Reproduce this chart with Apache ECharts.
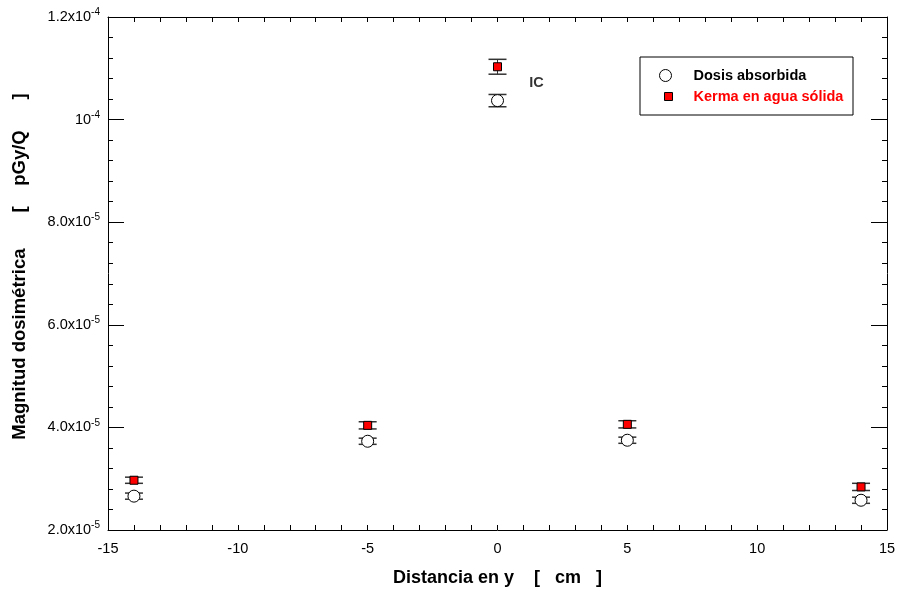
<!DOCTYPE html>
<html>
<head>
<meta charset="utf-8">
<script src="https://cdn.jsdelivr.net/npm/echarts@6/dist/echarts.min.js"></script>
<style>
    html, body { margin: 0; padding: 0; background: #fff; }
    #main { width: 899px; height: 592px; }
</style>
</head>
<body>
<div id="main"></div>
<script>
const xPos = [-14, -5, 0, 5, 14];
const dosis = [2.66e-5, 3.73e-5, 1.037e-4, 3.75e-5, 2.58e-5];
const dosisErr = [6e-7, 6e-7, 1.2e-6, 6e-7, 6e-7];
const kerma = [2.97e-5, 4.04e-5, 1.103e-4, 4.06e-5, 2.84e-5];
const kermaErr = [6e-7, 7e-7, 1.45e-6, 7e-7, 7e-7];
const yTickLabels = {
    2: '2.0x10{sup|-5}',
    4: '4.0x10{sup|-5}',
    6: '6.0x10{sup|-5}',
    8: '8.0x10{sup|-5}',
    10: '10{sup|-4}',
    12: '1.2x10{sup|-4}'
};
const icLabel = { x: 1.5, y: 1.072e-4, text: 'IC' };

const font = '"Liberation Sans", Arial, sans-serif';
const chart = echarts.init(document.getElementById('main'));

const errBars = (vals, errs) => xPos.map((x, i) => [x, vals[i], errs[i]]);

const renderErr = (params, api) => {
    const x = api.value(0), y = api.value(1), e = api.value(2);
    const top = api.coord([x, y + e]);
    const bot = api.coord([x, y - e]);
    const w = 9;
    const style = { stroke: '#333', lineWidth: 1.5 };
    return {
        type: 'group',
        children: [
            { type: 'line', shape: { x1: top[0], y1: top[1], x2: bot[0], y2: bot[1] }, style: { stroke: '#333', lineWidth: 1 } },
            { type: 'line', shape: { x1: top[0] - w, y1: top[1], x2: top[0] + w, y2: top[1] }, style },
            { type: 'line', shape: { x1: bot[0] - w, y1: bot[1], x2: bot[0] + w, y2: bot[1] }, style }
        ]
    };
};

const axisCommon = {
    axisLine: { show: true, onZero: false, lineStyle: { color: '#000', width: 1 } },
    splitLine: { show: false }
};

chart.setOption({
    animation: false,
    backgroundColor: '#fff',
    grid: { left: 108, right: 12, top: 17, bottom: 62 },
    textStyle: { fontFamily: font },
    xAxis: [{
        ...axisCommon,
        type: 'value', min: -15, max: 15, interval: 5,
        position: 'bottom',
        name: 'Distancia en y    [   cm   ]',
        nameLocation: 'middle', nameGap: 39,
        nameTextStyle: { fontSize: 18, fontWeight: 'bold', color: '#000', fontFamily: font },
        axisTick: { inside: true, length: 5, lineStyle: { color: '#000' } },
        minorTick: { show: true, splitNumber: 5, length: 5, lineStyle: { color: '#000' } },
        axisLabel: { fontSize: 14.5, color: '#000', margin: 11, fontFamily: font }
    }, {
        ...axisCommon,
        type: 'value', min: -15, max: 15, interval: 5,
        position: 'top',
        axisTick: { inside: true, length: 5, lineStyle: { color: '#000' } },
        minorTick: { show: true, splitNumber: 5, length: 5, lineStyle: { color: '#000' } },
        axisLabel: { show: false }
    }],
    yAxis: [{
        ...axisCommon,
        type: 'value', min: 2e-5, max: 1.2e-4, interval: 2e-5,
        position: 'left',
        name: 'Magnitud dosimétrica       [    pGy/Q      ]',
        nameLocation: 'middle', nameGap: 79,
        nameTextStyle: { fontSize: 18.5, fontWeight: 'bold', color: '#000', fontFamily: font, padding: [0, 0, 0, 14] },
        axisTick: { inside: true, length: 16, lineStyle: { color: '#000' } },
        minorTick: { show: true, splitNumber: 5, length: 5, lineStyle: { color: '#000' } },
        axisLabel: {
            margin: 8,
            formatter: v => yTickLabels[Math.round(v * 1e5)] || '',
            color: '#000',
            fontSize: 14.5,
            fontFamily: font,
            rich: { sup: { fontSize: 10, verticalAlign: 'top', padding: [0, 0, 9, 0], color: '#000', fontFamily: font } }
        }
    }, {
        ...axisCommon,
        type: 'value', min: 2e-5, max: 1.2e-4, interval: 2e-5,
        position: 'right',
        axisTick: { inside: true, length: 16, lineStyle: { color: '#000' } },
        minorTick: { show: true, splitNumber: 5, length: 5, lineStyle: { color: '#000' } },
        axisLabel: { show: false }
    }],
    legend: [{
        data: ['Dosis absorbida'],
        left: 659, top: 68, padding: 0,
        itemWidth: 12, itemHeight: 12,
        itemStyle: { borderWidth: 1 },
        textStyle: { fontSize: 14.5, fontWeight: 'bold', color: '#000', fontFamily: font, padding: [0, 0, 0, 17] }
    }, {
        data: ['Kerma en agua sólida'],
        left: 664, top: 89, padding: 0,
        itemWidth: 8, itemHeight: 8,
        itemStyle: { borderWidth: 1 },
        textStyle: { fontSize: 14.5, fontWeight: 'bold', color: '#ff0000', fontFamily: font, padding: [0, 0, 0, 16] }
    }],
    graphic: [{
        type: 'rect',
        shape: { x: 640, y: 57, width: 213, height: 58 },
        style: { fill: 'none', stroke: '#000', lineWidth: 1 },
        z: 1
    }],
    series: [{
        type: 'custom',
        renderItem: renderErr,
        data: errBars(dosis, dosisErr),
        z: 1, silent: true
    }, {
        type: 'custom',
        renderItem: renderErr,
        data: errBars(kerma, kermaErr),
        z: 1, silent: true
    }, {
        name: 'Dosis absorbida',
        type: 'scatter',
        symbol: 'circle', symbolSize: 12,
        itemStyle: { color: '#fff', borderColor: '#000', borderWidth: 1, opacity: 1 },
        data: xPos.map((x, i) => [x, dosis[i]]),
        z: 3
    }, {
        name: 'Kerma en agua sólida',
        type: 'scatter',
        symbol: 'rect', symbolSize: 8,
        itemStyle: { color: '#ff0000', borderColor: '#000', borderWidth: 1, opacity: 1 },
        data: xPos.map((x, i) => [x, kerma[i]]),
        z: 3
    }, {
        type: 'scatter',
        symbol: 'circle', symbolSize: 1,
        itemStyle: { color: 'rgba(0,0,0,0)' },
        silent: true,
        data: [[icLabel.x, icLabel.y]],
        label: {
            show: true, formatter: icLabel.text, position: 'inside',
            fontSize: 14.5, fontWeight: 'bold', color: '#000', fontFamily: font
        }
    }]
});
</script>
</body>
</html>
